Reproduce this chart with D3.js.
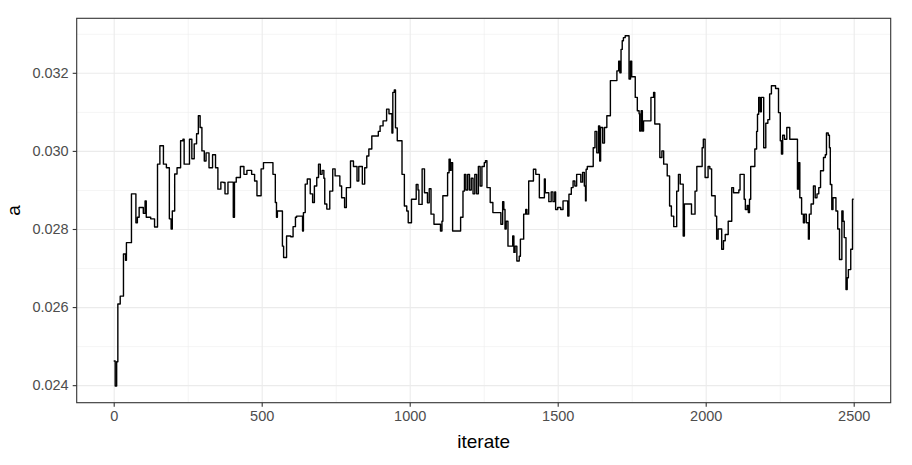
<!DOCTYPE html>
<html lang="en">
  <head>
    <meta charset="UTF-8" />
    <script src="https://d3js.org/d3.v7.min.js"></script>
    <title>Trace of a</title>
    <style>
      body { margin: 0; background: #fff; }
      text { font-family: "Liberation Sans", Arial, sans-serif; }
    </style>
  </head>
  <body>
  </body>
</html>
<script>
const width = 912;
const height = 465;

// iterations where the chain moved, and the value it moved to
const iterations = [
  0, 5, 10, 14, 22, 33, 40, 43, 60, 75, 80, 86, 100, 106, 110, 125, 138, 148, 156, 168,
  178, 188, 194, 198, 206, 214, 226, 234, 238, 256, 264, 272, 280, 286, 292, 298, 306, 312, 322, 334,
  344, 352, 362, 370, 376, 386, 402, 404, 408, 414, 428, 440, 450, 466, 476, 484, 498, 506, 538, 546,
  550, 553, 570, 574, 584, 598, 606, 614, 618, 638, 641, 647, 654, 664, 672, 678, 686, 692, 698, 704,
  710, 713, 720, 730, 740, 748, 764, 770, 780, 786, 800, 810, 822, 828, 840, 848, 855, 862, 872, 894,
  900, 910, 922, 930, 940, 943, 948, 952, 958, 974, 982, 990, 995, 1006, 1022, 1028, 1031, 1042, 1050, 1060,
  1066, 1072, 1082, 1104, 1109, 1112, 1128, 1133, 1137, 1140, 1145, 1172, 1180, 1185, 1190, 1196, 1202, 1208, 1214, 1220,
  1226, 1232, 1238, 1244, 1252, 1256, 1261, 1272, 1281, 1308, 1314, 1318, 1322, 1326, 1332, 1348, 1352, 1356, 1362, 1370,
  1374, 1385, 1392, 1396, 1402, 1418, 1426, 1438, 1455, 1458, 1470, 1478, 1484, 1490, 1493, 1500, 1510, 1518, 1534, 1538,
  1546, 1552, 1558, 1564, 1578, 1584, 1590, 1594, 1596, 1600, 1620, 1626, 1632, 1638, 1642, 1645, 1652, 1658, 1666, 1678,
  1700, 1706, 1710, 1714, 1718, 1722, 1728, 1741, 1746, 1750, 1762, 1769, 1775, 1777, 1782, 1786, 1790, 1815, 1824, 1828,
  1845, 1852, 1858, 1870, 1878, 1884, 1892, 1902, 1908, 1914, 1924, 1928, 1952, 1964, 1970, 1988, 1992, 1998, 2008, 2014,
  2020, 2032, 2037, 2042, 2054, 2060, 2066, 2076, 2088, 2094, 2112, 2116, 2130, 2134, 2140, 2144, 2148, 2152, 2166, 2172,
  2175, 2179, 2184, 2188, 2196, 2203, 2210, 2216, 2222, 2236, 2246, 2252, 2256, 2260, 2266, 2274, 2284, 2310, 2314, 2318,
  2324, 2330, 2334, 2340, 2347, 2350, 2356, 2364, 2370, 2376, 2382, 2388, 2398, 2404, 2408, 2414, 2418, 2421, 2426, 2430,
  2440, 2446, 2452, 2460, 2464, 2468, 2474, 2478, 2482, 2490, 2496, 2500
];
const values = [
  0.02462, 0.02398, 0.0246, 0.02608, 0.02628, 0.02736, 0.0272, 0.02765, 0.0289, 0.02816, 0.0283, 0.02855, 0.0284, 0.02872, 0.0283, 0.02826, 0.02805, 0.02966, 0.03013, 0.02966,
  0.02957, 0.02826, 0.0280, 0.02846, 0.02941, 0.02957, 0.03026, 0.0303, 0.02966, 0.0303, 0.0298, 0.03018, 0.03044, 0.0309, 0.0306, 0.0300, 0.02974, 0.02995, 0.02957, 0.0299,
  0.02957, 0.02902, 0.0292, 0.02919, 0.0289, 0.0292, 0.0292, 0.0283, 0.0292, 0.02932, 0.0296, 0.0294, 0.0295, 0.0294, 0.02923, 0.02885, 0.02954, 0.0297, 0.0294, 0.02868,
  0.0283, 0.02846, 0.02756, 0.02727, 0.02782, 0.0278, 0.02806, 0.0283, 0.02833, 0.02795, 0.02842, 0.02915, 0.02928, 0.0289, 0.02868, 0.0291, 0.02932, 0.02966, 0.0294, 0.0295,
  0.0293, 0.02864, 0.02851, 0.02897, 0.02954, 0.02936, 0.0291, 0.0288, 0.02855, 0.02906, 0.02974, 0.0296, 0.02923, 0.0296, 0.02915, 0.02957, 0.02987, 0.03005, 0.03038, 0.0305,
  0.03064, 0.03077, 0.03107, 0.03095, 0.03046, 0.0315, 0.03156, 0.03059, 0.03026, 0.0294, 0.02859, 0.02846, 0.02816, 0.02876, 0.02914, 0.0290, 0.02863, 0.02954, 0.02893, 0.02867,
  0.02903, 0.02838, 0.02812, 0.02795, 0.0282, 0.02885, 0.02944, 0.02979, 0.0295, 0.0297, 0.02795, 0.0283, 0.02897, 0.0294, 0.0290, 0.0294, 0.0290, 0.0293, 0.0289, 0.0294,
  0.0289, 0.0296, 0.0291, 0.0296, 0.0297, 0.02975, 0.02906, 0.02868, 0.02842, 0.02812, 0.0287, 0.0285, 0.0280, 0.0282, 0.02756, 0.02782, 0.0274, 0.02756, 0.02718, 0.0273,
  0.02774, 0.02838, 0.0285, 0.02838, 0.02923, 0.02953, 0.0294, 0.0288, 0.02928, 0.02893, 0.0287, 0.02895, 0.0287, 0.02895, 0.0285, 0.02855, 0.0285, 0.02872, 0.02833, 0.02889,
  0.02906, 0.02923, 0.0291, 0.0294, 0.0292, 0.02945, 0.0291, 0.02872, 0.02953, 0.0296, 0.03008, 0.0305, 0.02995, 0.03064, 0.02974, 0.0306, 0.0302, 0.0306, 0.0309, 0.0318,
  0.03205, 0.0323, 0.0320, 0.0326, 0.03282, 0.0329, 0.03295, 0.03184, 0.0323, 0.0319, 0.03137, 0.03103, 0.03095, 0.03051, 0.03103, 0.03051, 0.03077, 0.03137, 0.0315, 0.03069,
  0.02983, 0.0300, 0.02966, 0.02936, 0.02859, 0.02833, 0.02806, 0.02897, 0.0294, 0.02915, 0.02782, 0.02864, 0.02838, 0.02897, 0.0296, 0.03008, 0.0303, 0.02932, 0.0296, 0.02954,
  0.02885, 0.02833, 0.02774, 0.0280, 0.02748, 0.0277, 0.02786, 0.0282, 0.02906, 0.02893, 0.0290, 0.0294, 0.02876, 0.0285, 0.0286, 0.02842, 0.02876, 0.0296, 0.03005, 0.0305,
  0.03094, 0.03137, 0.0310, 0.03137, 0.03008, 0.03071, 0.0308, 0.03146, 0.03167, 0.0316, 0.03098, 0.03026, 0.02992, 0.0304, 0.0303, 0.0306, 0.0303, 0.02902, 0.0297, 0.0288,
  0.02838, 0.02816, 0.02838, 0.02816, 0.02774, 0.02838, 0.02864, 0.0291, 0.0288, 0.0289, 0.02906, 0.02949, 0.02983, 0.0299, 0.03046, 0.0304, 0.03008, 0.02914, 0.0285, 0.0288,
  0.02846, 0.0280, 0.02722, 0.02846, 0.0282, 0.02778, 0.02645, 0.02675, 0.02696, 0.02748, 0.02876, 0.02876
];

const xTicks = [0, 500, 1000, 1500, 2000, 2500];
const xMinor = [250, 750, 1250, 1750, 2250];
const yTicks = [0.024, 0.026, 0.028, 0.030, 0.032];
const yMinor = [0.025, 0.027, 0.029, 0.031, 0.033];

const trace = iterations.map((d, i) => ({ iter: d, a: values[i] }));

const margin = { left: 76.7, right: 21.3, top: 18.3, bottom: 62.3 };
const panelW = width - margin.left - margin.right;
const panelH = height - margin.top - margin.bottom;

let svg = d3
  .select("body")
  .append("svg")
  .attr("width", width)
  .attr("height", height);

let g = svg.append("g")
  .attr("transform", "translate(" + margin.left + "," + margin.top + ")");

// ggplot style 5% expansion
let xScale = d3.scaleLinear()
  .domain([-125, 2625])
  .range([0, panelW]);

let yScale = d3.scaleLinear()
  .domain([0.023551, 0.033396])
  .range([panelH, 0]);

// minor grid
g.append("g")
  .call(d3.axisBottom(xScale).tickValues(xMinor).tickSize(panelH).tickFormat(""))
  .call(a => a.select(".domain").remove())
  .call(a => a.selectAll("line").attr("stroke", "#ebebeb").attr("stroke-width", 0.55));
g.append("g")
  .call(d3.axisLeft(yScale).tickValues(yMinor).tickSize(-panelW).tickFormat(""))
  .call(a => a.select(".domain").remove())
  .call(a => a.selectAll("line").attr("stroke", "#ebebeb").attr("stroke-width", 0.55));

// major grid
g.append("g")
  .call(d3.axisBottom(xScale).tickValues(xTicks).tickSize(panelH).tickFormat(""))
  .call(a => a.select(".domain").remove())
  .call(a => a.selectAll("line").attr("stroke", "#ebebeb").attr("stroke-width", 1.1));
g.append("g")
  .call(d3.axisLeft(yScale).tickValues(yTicks).tickSize(-panelW).tickFormat(""))
  .call(a => a.select(".domain").remove())
  .call(a => a.selectAll("line").attr("stroke", "#ebebeb").attr("stroke-width", 1.1));

// the trace
let line = d3.line()
  .x(d => xScale(d.iter))
  .y(d => yScale(d.a))
  .curve(d3.curveStepAfter);

g.append("path")
  .datum(trace)
  .attr("fill", "none")
  .attr("stroke", "#000")
  .attr("stroke-width", 1.4)
  .attr("stroke-linejoin", "round")
  .attr("d", line);

// panel border
g.append("rect")
  .attr("width", panelW)
  .attr("height", panelH)
  .attr("fill", "none")
  .attr("stroke", "#333333")
  .attr("stroke-width", 1.1);

// axes
let xAxis = g.append("g")
  .attr("transform", "translate(0," + panelH + ")")
  .call(d3.axisBottom(xScale).tickValues(xTicks).tickSize(4).tickPadding(4).tickFormat(d3.format("d")));
let yAxis = g.append("g")
  .call(d3.axisLeft(yScale).tickValues(yTicks).tickSize(4).tickPadding(4).tickFormat(d3.format(".3f")));

[xAxis, yAxis].forEach(a => {
  a.select(".domain").remove();
  a.selectAll("line").attr("stroke", "#333333").attr("stroke-width", 1.1);
  a.selectAll("text")
    .attr("fill", "#4d4d4d")
    .style("font-size", "14.5px")
    .style("font-family", "'Liberation Sans', Arial, sans-serif");
});

// titles
svg.append("text")
  .attr("x", margin.left + panelW / 2)
  .attr("y", 448)
  .attr("text-anchor", "middle")
  .style("font-size", "19px")
  .attr("fill", "#000")
  .text("iterate");

svg.append("text")
  .attr("transform", "translate(20," + (margin.top + panelH / 2) + ") rotate(-90)")
  .attr("text-anchor", "middle")
  .style("font-size", "19px")
  .attr("fill", "#000")
  .text("a");
</script>
